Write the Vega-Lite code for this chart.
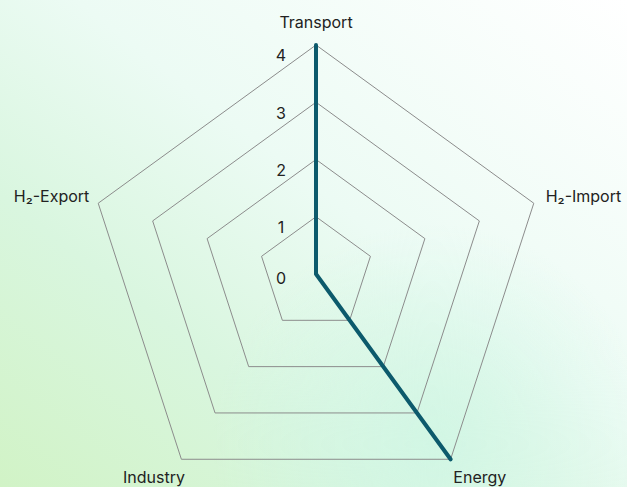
{
  "$schema": "https://vega.github.io/schema/vega-lite/v6.json",
  "width": 627,
  "height": 487,
  "padding": 0,
  "autosize": {"type": "none"},
  "background": "#ffffff",
  "config": {"view": {"stroke": null}, "text": {"font": "Inter", "fontSize": 16, "color": "#222222"}},
  "datasets": {
    "scores": [
      {"axis": "Transport", "idx": 0, "value": 4},
      {"axis": "H₂-Import", "idx": 1, "value": 0},
      {"axis": "Energy", "idx": 2, "value": 4},
      {"axis": "Industry", "idx": 3, "value": 0},
      {"axis": "H₂-Export", "idx": 4, "value": 0}
    ],
    "grid": [
      {"level": 1, "idx": 0}, {"level": 1, "idx": 1}, {"level": 1, "idx": 2}, {"level": 1, "idx": 3}, {"level": 1, "idx": 4}, {"level": 1, "idx": 5},
      {"level": 2, "idx": 0}, {"level": 2, "idx": 1}, {"level": 2, "idx": 2}, {"level": 2, "idx": 3}, {"level": 2, "idx": 4}, {"level": 2, "idx": 5},
      {"level": 3, "idx": 0}, {"level": 3, "idx": 1}, {"level": 3, "idx": 2}, {"level": 3, "idx": 3}, {"level": 3, "idx": 4}, {"level": 3, "idx": 5},
      {"level": 4, "idx": 0}, {"level": 4, "idx": 1}, {"level": 4, "idx": 2}, {"level": 4, "idx": 3}, {"level": 4, "idx": 4}, {"level": 4, "idx": 5}
    ],
    "ticks": [{"level": 0}, {"level": 1}, {"level": 2}, {"level": 3}, {"level": 4}]
  },
  "layer": [
    {
      "data": {"values": [{}]},
      "mark": {"type": "rect", "fill": {"gradient": "linear", "x1": 0, "y1": 1, "x2": 1, "y2": 0, "stops": [
        {"offset": 0, "color": "#d1f3c6"},
        {"offset": 0.3, "color": "#d9f6df"},
        {"offset": 0.56, "color": "#ecfbf4"},
        {"offset": 1, "color": "#ffffff"}
      ]}},
      "encoding": {}
    },
    {
      "data": {"values": [{}]},
      "mark": {"type": "rect", "fill": {"gradient": "radial", "x1": 0.69, "y1": 0.82, "r1": 0, "x2": 0.69, "y2": 0.82, "r2": 0.35, "stops": [
        {"offset": 0, "color": "rgba(208,246,228,0.9)"},
        {"offset": 1, "color": "rgba(208,246,228,0)"}
      ]}},
      "encoding": {}
    },
    {
      "data": {"name": "grid"},
      "transform": [
        {"calculate": "datum.idx * 2 * PI / 5", "as": "theta"},
        {"calculate": "datum.level * sin(datum.theta)", "as": "gx"},
        {"calculate": "datum.level * cos(datum.theta)", "as": "gy"}
      ],
      "mark": {"type": "line", "stroke": "#8c8c8c", "strokeWidth": 1},
      "encoding": {
        "x": {"field": "gx", "type": "quantitative", "scale": {"domain": [-5.5197, 5.4323], "nice": false, "zero": false}, "axis": null},
        "y": {"field": "gy", "type": "quantitative", "scale": {"domain": [-3.7205, 4.786], "nice": false, "zero": false}, "axis": null},
        "detail": {"field": "level"},
        "order": {"field": "idx"}
      }
    },
    {
      "data": {"name": "ticks"},
      "transform": [{"filter": "datum.level > 0"}],
      "mark": {"type": "text", "dx": -35, "dy": 11.5, "align": "center", "baseline": "middle"},
      "encoding": {
        "x": {"datum": 0, "type": "quantitative"},
        "y": {"field": "level", "type": "quantitative"},
        "text": {"field": "level"}
      }
    },
    {
      "data": {"name": "ticks"},
      "transform": [{"filter": "datum.level == 0"}],
      "mark": {"type": "text", "dx": -35, "dy": 5, "align": "center", "baseline": "middle"},
      "encoding": {
        "x": {"datum": 0, "type": "quantitative"},
        "y": {"field": "level", "type": "quantitative"},
        "text": {"field": "level"}
      }
    },
    {
      "data": {"name": "scores"},
      "transform": [
        {"calculate": "datum.idx * 2 * PI / 5", "as": "theta"},
        {"calculate": "datum.value * sin(datum.theta)", "as": "px"},
        {"calculate": "datum.value * cos(datum.theta)", "as": "py"}
      ],
      "mark": {"type": "line", "stroke": "#0c5a6c", "strokeWidth": 4, "strokeCap": "round", "strokeJoin": "round"},
      "encoding": {
        "x": {"field": "px", "type": "quantitative"},
        "y": {"field": "py", "type": "quantitative"},
        "order": {"field": "idx"}
      }
    },
    {
      "data": {"name": "scores"},
      "transform": [
        {"filter": "datum.idx == 0"},
        {"calculate": "datum.idx * 2 * PI / 5", "as": "theta"},
        {"calculate": "4.2 * sin(datum.theta)", "as": "lx"},
        {"calculate": "4.2 * cos(datum.theta)", "as": "ly"}
      ],
      "mark": {"type": "text", "align": "center", "baseline": "middle", "dy": -11},
      "encoding": {"x": {"field": "lx", "type": "quantitative"}, "y": {"field": "ly", "type": "quantitative"}, "text": {"field": "axis"}}
    },
    {
      "data": {"name": "scores"},
      "transform": [
        {"filter": "datum.idx == 1"},
        {"calculate": "datum.idx * 2 * PI / 5", "as": "theta"},
        {"calculate": "4.2 * sin(datum.theta)", "as": "lx"},
        {"calculate": "4.2 * cos(datum.theta)", "as": "ly"}
      ],
      "mark": {"type": "text", "align": "left", "baseline": "middle", "dx": 1, "dy": -3},
      "encoding": {"x": {"field": "lx", "type": "quantitative"}, "y": {"field": "ly", "type": "quantitative"}, "text": {"field": "axis"}}
    },
    {
      "data": {"name": "scores"},
      "transform": [
        {"filter": "datum.idx == 2"},
        {"calculate": "datum.idx * 2 * PI / 5", "as": "theta"},
        {"calculate": "4.2 * sin(datum.theta)", "as": "lx"},
        {"calculate": "4.2 * cos(datum.theta)", "as": "ly"}
      ],
      "mark": {"type": "text", "align": "left", "baseline": "middle", "dx": -4, "dy": 9},
      "encoding": {"x": {"field": "lx", "type": "quantitative"}, "y": {"field": "ly", "type": "quantitative"}, "text": {"field": "axis"}}
    },
    {
      "data": {"name": "scores"},
      "transform": [
        {"filter": "datum.idx == 3"},
        {"calculate": "datum.idx * 2 * PI / 5", "as": "theta"},
        {"calculate": "4.2 * sin(datum.theta)", "as": "lx"},
        {"calculate": "4.2 * cos(datum.theta)", "as": "ly"}
      ],
      "mark": {"type": "text", "align": "right", "baseline": "middle", "dx": 10.3, "dy": 9},
      "encoding": {"x": {"field": "lx", "type": "quantitative"}, "y": {"field": "ly", "type": "quantitative"}, "text": {"field": "axis"}}
    },
    {
      "data": {"name": "scores"},
      "transform": [
        {"filter": "datum.idx == 4"},
        {"calculate": "datum.idx * 2 * PI / 5", "as": "theta"},
        {"calculate": "4.2 * sin(datum.theta)", "as": "lx"},
        {"calculate": "4.2 * cos(datum.theta)", "as": "ly"}
      ],
      "mark": {"type": "text", "align": "right", "baseline": "middle", "dx": 2, "dy": -3},
      "encoding": {"x": {"field": "lx", "type": "quantitative"}, "y": {"field": "ly", "type": "quantitative"}, "text": {"field": "axis"}}
    }
  ]
}
